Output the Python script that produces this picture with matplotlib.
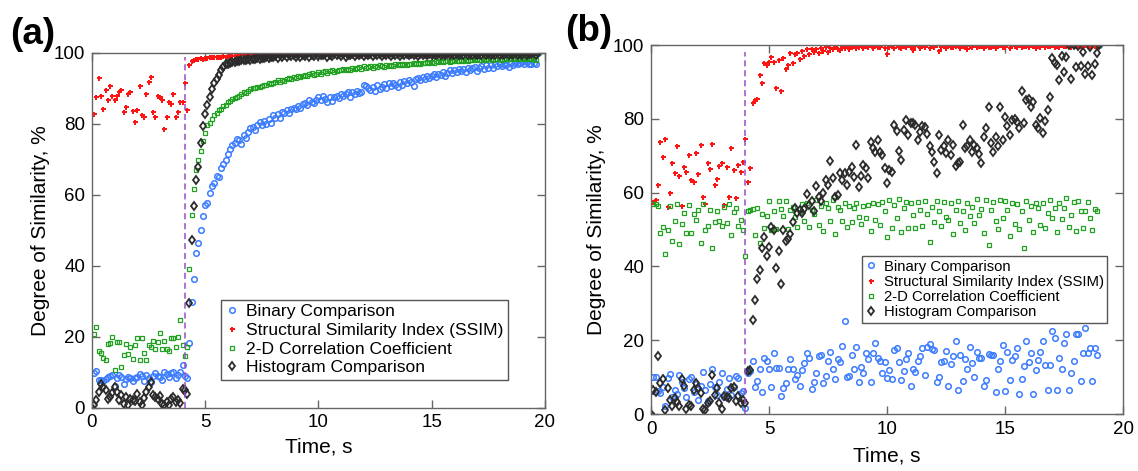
import numpy as np
import matplotlib
matplotlib.use('Agg')
import matplotlib.pyplot as plt

plt.rcParams['font.family'] = ['Liberation Sans', 'DejaVu Sans']

# frames every 0.1 s, values in %
# ---------------- panel (a) ----------------
binary_a = [0, 9.8, 10.2, 7.8, 7.9, 7.6, 8.1, 8.6, 8.9, 9.1,
            6.0, 8.3, 9.2, 8.7, 6.6, 8.0, 8.5, 8.3, 7.6, 8.2,
            8.6, 9.4, 8.9, 7.4, 9.3, 8.2, 7.3, 9.0, 9.6, 8.9,
            8.7, 7.9, 10.1, 9.4, 8.6, 9.6, 9.9, 8.4, 9.3, 10.0,
            11.9, 8.8, 8.4, 18.2, 29.8, 36.2, 43.5, 46.5, 50.1, 54.1,
            57.0, 57.6, 60.4, 62.4, 63.3, 65.4, 65.0, 67.5, 68.8, 69.9,
            71.4, 72.8, 74.0, 74.7, 75.8, 75.5, 74.4, 76.9, 76.0, 77.8,
            78.9, 79.2, 78.4, 79.6, 80.4, 79.7, 80.8, 79.9, 81.5, 80.3,
            82.6, 81.7, 82.9, 81.8, 83.4, 83.1, 83.9, 83.2, 84.1, 84.5,
            84.2, 85.1, 84.6, 85.5, 86.0, 85.4, 86.6, 86.1, 85.9, 86.8,
            87.6, 86.7, 87.9, 87.1, 86.2, 87.5, 86.4, 87.6, 88.0, 87.3,
            88.4, 87.8, 88.5, 88.9, 87.6, 89.1, 88.4, 89.3, 88.7, 89.0,
            91.0, 90.6, 90.2, 89.7, 90.4, 89.2, 90.9, 89.8, 90.3, 91.2,
            90.1, 91.5, 90.8, 91.6, 90.9, 90.4, 91.8, 91.1, 92.0, 91.4,
            92.3, 91.7, 90.6, 92.8, 93.0, 92.5, 93.2, 92.8, 93.4, 92.9,
            93.5, 94.0, 93.1, 94.2, 93.8, 94.6, 93.6, 94.4, 95.1, 94.3,
            95.3, 94.7, 95.6, 94.9, 95.4, 94.5, 95.9, 95.2, 95.7, 96.1,
            95.0, 95.8, 96.3, 95.5, 96.5, 95.9, 96.6, 95.7, 96.8, 96.2,
            96.9, 96.4, 97.0, 96.5, 96.1, 97.2, 96.7, 97.3, 96.9, 97.1,
            97.4, 96.8, 97.5, 97.0, 96.9, 97.3, 96.8, 100.0]

ssim_a = [0, 82.9, 87.6, 93.0, 88.0, 84.3, 89.5, 86.7, 90.6, 88.0,
          86.7, 88.0, 89.0, 89.7, 83.4, 84.8, 88.3, 89.0, 83.6, 80.5,
          83.8, 90.6, 82.4, 82.0, 88.5, 91.8, 93.2, 83.4, 82.0, 88.0,
          87.6, 86.7, 78.7, 82.0, 86.2, 85.7, 88.5, 82.0, 83.4, 86.2,
          86.2, 91.4, 83.8, 96.5, 97.7, 97.9, 98.2, 98.3, 98.5, 98.4,
          98.6, 98.7, 98.8, 98.8, 98.9, 99.0, 98.9, 99.0, 99.1, 99.0,
          99.1, 99.2, 99.1, 99.2, 99.3, 99.2, 99.3, 99.3, 99.4, 99.3,
          99.4, 99.4, 99.5, 99.4, 99.5, 99.5, 99.4, 99.6, 99.5, 99.6,
          99.6, 99.5, 99.7, 99.6, 99.7, 99.6, 99.8, 99.7, 99.6, 99.8,
          99.7, 99.8, 99.7, 99.8, 99.9, 99.7, 99.8, 99.9, 99.8, 99.7,
          99.8, 99.9, 99.8, 99.7, 99.9, 99.8, 99.9, 99.8, 99.9, 99.8,
          99.9, 99.8, 99.9, 99.8, 99.7, 99.9, 99.8, 99.9, 99.8, 99.9,
          99.8, 99.9, 99.8, 99.9, 99.9, 99.8, 99.9, 99.8, 99.9, 99.9,
          99.8, 99.9, 99.9, 99.8, 99.9, 99.9, 99.8, 99.9, 99.9, 99.8,
          99.9, 99.9, 99.8, 99.9, 99.9, 99.9, 99.8, 99.9, 99.9, 99.9,
          99.8, 99.9, 99.9, 99.9, 99.8, 99.9, 99.9, 99.9, 99.8, 99.9,
          99.9, 99.9, 99.8, 99.9, 99.9, 99.9, 99.9, 99.8, 99.9, 99.9,
          99.9, 99.8, 99.9, 99.9, 99.9, 99.9, 99.8, 99.9, 99.9, 99.9,
          99.9, 99.9, 99.8, 99.9, 99.9, 99.9, 99.9, 99.9, 99.8, 99.9,
          99.9, 99.9, 99.9, 99.8, 99.9, 99.9, 99.9, 100.0]

corr_a = [0, 20.6, 22.7, 16.0, 15.4, 14.1, 13.5, 18.0, 18.3, 19.9,
          10.5, 18.5, 18.6, 11.5, 14.8, 17.9, 15.2, 17.1, 13.8, 17.6,
          19.5, 13.3, 19.6, 15.4, 13.3, 17.6, 17.1, 18.8, 16.4, 18.5,
          20.9, 16.4, 18.8, 16.4, 16.0, 19.5, 19.5, 17.2, 19.8, 24.8,
          17.6, 14.5, 17.1, 39.2, 54.2, 61.5, 67.1, 69.7, 72.4, 75.2,
          77.4, 79.6, 80.3, 81.5, 82.4, 83.2, 83.8, 84.3, 85.0, 85.4,
          86.2, 86.5, 86.9, 87.3, 87.6, 88.0, 88.4, 89.0, 88.7, 89.3,
          89.9, 90.1, 90.0, 90.5, 90.3, 90.8, 91.1, 90.9, 91.4, 91.2,
          91.6, 91.9, 92.3, 91.8, 92.4, 92.2, 92.7, 93.0, 92.6, 93.2,
          93.0, 93.4, 93.1, 93.6, 93.9, 93.5, 94.1, 94.4, 93.9, 94.2,
          94.5, 94.2, 94.7, 94.9, 94.4, 94.8, 95.1, 94.6, 95.0, 95.3,
          95.1, 95.4, 95.2, 95.6, 95.3, 95.7, 95.5, 95.8, 96.0, 95.6,
          96.2, 95.9, 96.1, 96.3, 95.8, 96.4, 96.1, 96.5, 96.2, 96.0,
          96.5, 96.3, 96.7, 96.4, 96.8, 96.5, 96.9, 96.6, 97.0, 96.7,
          97.0, 96.8, 97.1, 96.9, 97.2, 97.0, 97.3, 97.1, 97.4, 97.2,
          97.5, 97.3, 97.6, 97.4, 97.7, 97.5, 97.6, 97.8, 97.5, 97.7,
          97.9, 97.6, 97.8, 98.0, 97.7, 98.0, 97.8, 98.1, 97.9, 98.0,
          98.2, 97.9, 98.1, 98.3, 98.0, 98.2, 98.4, 98.1, 98.3, 98.2,
          98.4, 98.1, 98.3, 98.5, 98.2, 98.4, 98.6, 98.3, 98.5, 98.2,
          98.4, 98.6, 98.3, 98.5, 98.2, 98.4, 98.1, 100.0]

hist_a = [0, 0.7, 2.0, 4.5, 6.7, 5.8, 4.9, 2.5, 3.0, 4.2,
          5.8, 4.4, 2.2, 3.5, 1.1, 3.0, 0.7, 2.5, 2.2, 1.8,
          3.9, 1.5, 0.6, 2.6, 4.4, 5.8, 7.2, 3.4, 3.0, 2.5,
          3.2, 1.1, 0.6, 1.5, 0.6, 2.5, 3.0, 1.5, 2.0, 1.2,
          5.3, 4.9, 3.9, 29.6, 47.2, 56.8, 64.3, 67.9, 74.6, 79.3,
          82.7, 85.2, 87.6, 89.9, 91.4, 92.8, 93.7, 95.1, 96.0, 96.8,
          97.0, 97.2, 97.4, 97.5, 97.6, 97.7, 97.9, 98.0, 98.1, 98.2,
          98.1, 98.4, 98.3, 98.6, 98.4, 98.7, 98.5, 98.8, 98.6, 98.9,
          98.9, 99.2, 98.7, 99.3, 99.0, 99.4, 98.8, 99.3, 99.1, 99.5,
          99.0, 99.4, 98.9, 99.5, 99.2, 99.6, 99.0, 99.4, 99.2, 99.6,
          99.1, 99.5, 99.3, 99.7, 99.0, 99.5, 99.2, 99.6, 99.3, 99.7,
          99.2, 99.6, 99.0, 99.5, 99.3, 99.7, 99.1, 99.6, 99.4, 99.7,
          99.2, 99.6, 99.3, 99.8, 99.1, 99.6, 99.4, 99.7, 99.2, 99.8,
          99.3, 99.7, 99.1, 99.6, 99.4, 99.8, 99.2, 99.7, 99.4, 99.8,
          99.3, 99.7, 99.5, 99.8, 99.2, 99.7, 99.4, 99.8, 99.3, 99.7,
          99.5, 99.8, 99.3, 99.7, 99.5, 99.8, 99.4, 99.8, 99.3, 99.7,
          99.5, 99.8, 99.4, 99.7, 99.5, 99.9, 99.3, 99.8, 99.5, 99.7,
          99.4, 99.8, 99.5, 99.9, 99.4, 99.7, 99.5, 99.8, 99.4, 99.9,
          99.5, 99.8, 99.4, 99.9, 99.5, 99.7, 99.5, 99.9, 99.4, 99.8,
          99.5, 99.9, 99.4, 99.8, 99.6, 99.9, 99.5, 100.0]

# ---------------- panel (b) ----------------
binary_b = [0, 9.9, 9.9, 6.3, 5.6, 7.4, 2.2, 9.8, 10.9, 4.5,
            6.6, 5.4, 10.6, 8.8, 7.0, 4.6, 9.6, 9.9, 5.9, 8.0,
            3.9, 7.5, 11.3, 6.6, 3.4, 8.2, 12.3, 7.4, 5.1, 8.8,
            11.1, 4.6, 6.9, 9.8, 5.2, 7.4, 10.4, 9.7, 5.8, 6.3,
            1.7, 11.1, 11.6, 14.5, 7.3, 9.0, 12.2, 5.9, 15.3, 14.4,
            12.1, 7.4, 16.6, 12.6, 12.4, 4.8, 7.0, 8.4, 12.2, 14.8,
            12.1, 9.6, 10.6, 7.5, 12.0, 13.8, 16.6, 15.3, 6.9, 8.6,
            11.0, 15.8, 16.1, 8.4, 10.2, 14.3, 16.8, 12.1, 9.5, 15.0,
            14.2, 18.3, 25.1, 10.1, 10.3, 16.1, 12.3, 18.1, 8.8, 12.8,
            11.2, 16.6, 14.9, 8.8, 16.6, 19.2, 15.1, 14.5, 11.0, 14.2,
            9.8, 12.0, 9.6, 17.4, 17.9, 14.1, 9.2, 11.7, 14.9, 16.6,
            7.6, 12.2, 11.3, 14.3, 15.7, 17.8, 10.6, 18.2, 19.0, 17.6,
            17.3, 8.8, 10.0, 14.1, 14.3, 17.0, 7.5, 13.5, 15.7, 19.7,
            6.6, 16.0, 8.9, 14.8, 12.2, 18.2, 13.7, 10.0, 16.9, 15.3,
            15.1, 7.7, 9.3, 16.3, 15.9, 16.1, 5.9, 12.2, 14.3, 18.7,
            6.2, 16.7, 9.1, 14.7, 15.6, 17.8, 5.3, 9.4, 12.9, 19.9,
            14.0, 16.4, 5.4, 12.0, 14.6, 16.7, 19.8, 13.2, 6.4, 13.3,
            22.5, 20.6, 6.6, 15.1, 12.2, 19.2, 21.7, 6.6, 11.0, 14.4,
            21.8, 21.8, 8.9, 16.5, 23.3, 16.4, 17.9, 9.0, 17.9, 16.0,
            100.0]

ssim_b = [0, 57.5, 58.0, 62.0, 73.6, 69.6, 74.5, 56.0, 60.0, 68.1,
          65.3, 72.5, 64.4, 56.5, 66.9, 65.7, 70.2, 63.4, 63.0, 70.7,
          65.1, 72.9, 58.8, 56.8, 68.1, 66.3, 73.2, 62.1, 63.6, 67.1,
          68.1, 56.7, 66.9, 58.8, 72.0, 66.0, 58.5, 67.5, 65.7, 68.4,
          74.5, 63.0, 66.8, 84.2, 85.1, 85.3, 91.9, 89.8, 95.0, 94.6,
          95.5, 96.7, 95.5, 88.3, 95.9, 87.6, 96.4, 93.4, 94.6, 97.9,
          95.2, 97.7, 97.9, 96.1, 98.5, 97.0, 98.8, 97.6, 99.0, 98.2,
          98.9, 97.8, 99.2, 98.4, 99.5, 98.0, 99.3, 98.8, 99.6, 99.0,
          98.6, 99.4, 99.1, 99.7, 98.9, 99.5, 99.8, 99.2, 99.6, 99.9,
          99.3, 99.7, 99.5, 99.9, 99.2, 99.8, 99.6, 99.4, 99.9, 99.1,
          97.6, 99.5, 99.8, 99.3, 99.9, 99.6, 99.2, 99.8, 99.5, 99.9,
          99.4, 98.6, 99.7, 99.9, 99.3, 99.8, 99.5, 99.9, 99.2, 99.7,
          99.6, 99.9, 98.4, 99.5, 99.8, 99.3, 99.9, 99.6, 99.4, 99.8,
          99.9, 99.2, 99.7, 99.5, 98.9, 99.8, 99.6, 99.9, 99.4, 99.7,
          99.8, 99.3, 99.9, 99.6, 99.4, 99.8, 99.1, 99.7, 99.9, 99.5,
          99.6, 99.9, 99.3, 99.7, 99.8, 99.5, 99.9, 99.4, 99.7, 99.8,
          99.5, 99.9, 99.7, 99.3, 99.8, 99.6, 99.9, 99.5, 99.8, 99.7,
          99.9, 99.6, 99.8, 99.4, 99.9, 99.7, 99.8, 99.9, 99.6, 99.8,
          99.7, 99.9, 99.8, 99.6, 99.9, 99.7, 99.8, 99.9, 99.7, 99.8,
          100.0]

corr_b = [0, 57.0, 57.0, 56.5, 49.0, 50.8, 43.4, 49.9, 56.4, 47.0,
          52.2, 57.0, 46.0, 51.5, 54.4, 49.0, 56.7, 49.0, 54.3, 52.6,
          55.3, 46.3, 56.8, 49.9, 51.0, 55.3, 45.0, 52.1, 55.1, 52.2,
          51.0, 56.2, 51.9, 57.0, 48.6, 54.8, 55.8, 51.0, 52.6, 49.9,
          42.9, 54.9, 55.3, 55.6, 48.6, 55.9, 46.3, 54.3, 50.4, 53.6,
          57.6, 49.9, 55.0, 50.2, 57.7, 55.6, 53.7, 57.8, 50.1, 55.2,
          56.2, 53.4, 50.8, 54.7, 56.9, 52.2, 57.1, 50.8, 55.4, 54.1,
          58.0, 51.1, 56.3, 49.5, 57.2, 55.8, 52.4, 58.0, 48.8, 56.0,
          55.4, 52.3, 57.1, 50.8, 56.5, 52.0, 55.9, 57.3, 53.3, 51.6,
          56.4, 53.2, 56.7, 49.6, 57.1, 52.6, 56.9, 51.3, 57.4, 55.0,
          48.1, 57.9, 50.3, 56.6, 53.1, 58.2, 49.3, 55.8, 57.5, 50.5,
          57.2, 53.8, 50.3, 57.4, 55.3, 51.0, 57.6, 54.2, 46.6, 56.1,
          52.0, 57.8, 55.0, 50.9, 57.5, 53.4, 52.7, 57.2, 48.7, 55.4,
          57.8, 51.9, 55.1, 49.8, 57.3, 53.6, 56.1, 51.7, 58.2, 54.0,
          55.6, 49.1, 57.9, 45.8, 55.3, 57.4, 52.4, 50.2, 58.0, 53.2,
          57.6, 55.4, 48.2, 57.2, 51.5, 56.8, 50.1, 54.9, 45.0, 57.7,
          52.5, 56.4, 49.4, 57.1, 55.9, 51.3, 57.3, 50.3, 54.6, 58.1,
          53.2, 55.7, 49.3, 57.2, 52.9, 55.8, 58.5, 50.7, 54.0, 57.5,
          49.6, 57.8, 55.1, 50.4, 54.9, 57.4, 53.1, 50.0, 55.5, 55.0,
          100.0]

hist_b = [0, 6.5, 5.9, 15.8, 8.4, 9.5, 1.2, 7.0, 3.9, 2.3,
          4.3, 3.2, 2.1, 9.5, 7.5, 1.4, 2.5, 2.1, 6.6, 8.4,
          7.0, 5.7, 1.4, 1.0, 3.0, 3.4, 10.6, 5.2, 7.0, 3.0,
          1.4, 4.8, 4.6, 4.3, 7.0, 7.3, 3.4, 4.8, 3.0, 3.9,
          3.0, 11.6, 11.8, 25.4, 31.0, 36.6, 38.9, 45.0, 47.9, 42.7,
          45.2, 50.8, 49.9, 39.5, 44.3, 35.3, 49.9, 46.8, 47.4, 48.8,
          52.0, 55.8, 54.4, 55.3, 54.6, 55.5, 59.7, 56.7, 57.6, 55.0,
          61.8, 58.9, 57.6, 60.0, 63.4, 62.2, 68.6, 63.9, 58.9, 59.4,
          65.3, 63.4, 65.4, 62.1, 65.7, 67.0, 64.2, 72.9, 61.6, 64.5,
          67.5, 66.6, 63.9, 73.6, 72.0, 71.1, 74.3, 71.1, 70.2, 66.6,
          62.7, 66.0, 65.7, 78.3, 76.8, 71.4, 68.9, 77.0, 79.7, 75.6,
          78.8, 79.0, 78.3, 74.3, 76.5, 78.1, 77.9, 75.8, 72.5, 71.0,
          68.4, 65.3, 75.6, 71.6, 72.5, 70.7, 74.3, 70.2, 72.8, 67.1,
          68.0, 68.4, 78.3, 72.0, 72.5, 74.3, 71.1, 73.0, 72.0, 70.5,
          68.0, 75.2, 77.4, 83.3, 73.4, 71.1, 75.2, 72.6, 83.1, 74.3,
          80.6, 78.1, 75.6, 79.7, 79.9, 79.2, 77.5, 87.6, 78.8, 85.1,
          85.3, 83.1, 84.6, 78.3, 77.4, 80.1, 76.1, 79.5, 82.4, 85.8,
          96.4, 95.0, 94.6, 90.5, 97.0, 92.8, 96.8, 100.0, 90.7, 100.0,
          94.1, 99.7, 94.3, 98.2, 92.1, 94.3, 99.5, 91.9, 94.9, 97.8,
          100.0]

labels = ['Binary Comparison', 'Structural Similarity Index (SSIM)',
          '2-D Correlation Coefficient', 'Histogram Comparison']
switch_a = 4.1   # dashed line, s
switch_b = 3.98

frame_step = 0.1

blue = '#3b7cff'
red = '#ff1414'
green = '#22a022'
dark = '#2b2b2b'
axis_gray = '#666666'


def panel(ax, series, switch, dash_top, leg_anchor, leg_size, leg_space):
    b, s, c, h = series
    tb = np.arange(len(b)) * frame_step
    ts = np.arange(len(s)) * frame_step
    tc = np.arange(len(c)) * frame_step
    th = np.arange(len(h)) * frame_step
    ax.plot(tb, b, 'o', ls='none', ms=4.0, mfc='none', mec=blue, mew=1.1, label=labels[0])
    ax.plot(ts, s, 'P', ls='none', ms=3.6, color=red, mew=0, label=labels[1])
    ax.plot(tc, c, 's', ls='none', ms=3.3, mfc='none', mec=green, mew=0.9, label=labels[2])
    ax.plot(th, h, 'd', ls='none', ms=4.5, mfc='none', mec=dark, mew=1.3, label=labels[3])
    ax.plot([switch, switch], [0, dash_top], ls=(0, (4, 2.5)), color='#9b4dc4', lw=1.1)

    ax.set_xlim(0, 20)
    ax.set_ylim(0, 100)
    ax.set_xticks([0, 5, 10, 15, 20])
    ax.set_yticks([0, 20, 40, 60, 80, 100])
    ax.tick_params(direction='in', top=True, right=True, length=6, width=1,
                   color=axis_gray, labelsize=13.5, pad=5)
    for sp in ax.spines.values():
        sp.set_color(axis_gray)
        sp.set_linewidth(1.0)
    ax.set_xlabel('Time, s', fontsize=15)
    ax.set_ylabel('Degree of Similarity, %', fontsize=15)

    leg = ax.legend(loc='lower left', bbox_to_anchor=leg_anchor, borderaxespad=0,
                    fontsize=leg_size, labelspacing=leg_space, handlelength=0.7,
                    handletextpad=0.5, borderpad=0.25, numpoints=1,
                    fancybox=False, framealpha=1, edgecolor='#555555')
    leg.get_frame().set_linewidth(1.0)


fig = plt.figure(figsize=(11.38, 4.71), dpi=100)
ax1 = fig.add_axes([0.0808, 0.1348, 0.398, 0.7527])
ax2 = fig.add_axes([0.5721, 0.121, 0.4148, 0.7834])

panel(ax1, (binary_a, ssim_a, corr_a, hist_a), switch_a, 98.8, (0.285, 0.078), 12.6, 0.2)
panel(ax2, (binary_b, ssim_b, corr_b, hist_b), switch_b, 98.2, (0.447, 0.247), 10.7, 0.08)

ax1.xaxis.set_label_coords(0.5, -0.085)
ax1.yaxis.set_label_coords(-0.093, 0.5)
ax2.xaxis.set_label_coords(0.5, -0.087)
ax2.yaxis.set_label_coords(-0.095, 0.5)

fig.text(10 / 1138, 0.906, '(a)', fontsize=26.5, fontweight='bold', va='baseline')
fig.text(565 / 1138, 0.914, '(b)', fontsize=26.5, fontweight='bold', va='baseline')

plt.savefig('out.png', dpi=100)
